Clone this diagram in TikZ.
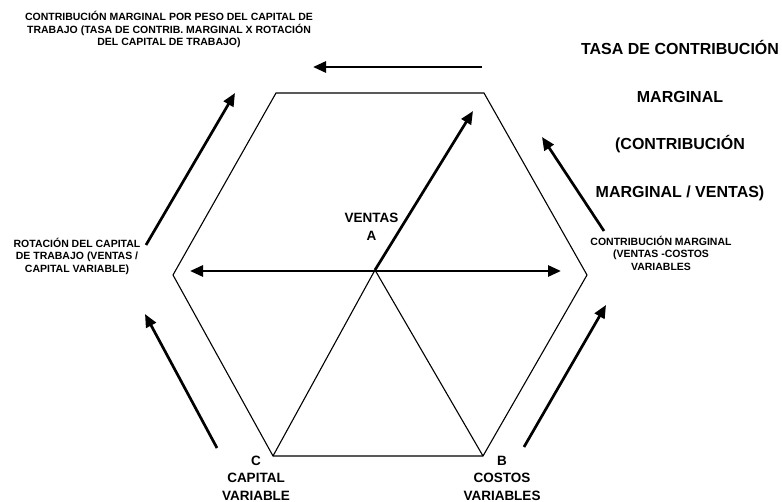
\documentclass[tikz,border=0pt]{standalone}
\usepackage{fontspec}
\setmainfont{Liberation Sans}
\usetikzlibrary{arrows.meta}
\tikzset{
  hexline/.style={line width=1.1pt, line join=miter},
  bigarrow/.style={line width=2.7pt, -{Triangle[length=13pt,width=11pt]}},
  dblarrow/.style={line width=2.7pt, {Triangle[length=13pt,width=11pt]}-{Triangle[length=13pt,width=11pt]}},
  smalltxt/.style={align=center, inner sep=0pt, font=\bfseries\fontsize{10.5}{12.5}\selectfont},
  bigtxt/.style={anchor=base, inner sep=0pt, font=\bfseries\fontsize{16}{19}\selectfont},
  vtxlabel/.style={align=center, inner sep=0pt, font=\bfseries\fontsize{13.5}{17.5}\selectfont},
}
\begin{document}
\begin{tikzpicture}[x=1pt,y=-1pt]
\useasboundingbox (0,0) rectangle (782,502);
% hexagon vertices
\coordinate (TL) at (276,93);
\coordinate (TR) at (484,93);
\coordinate (R) at (587,275);
\coordinate (BR) at (483,456);
\coordinate (BL) at (273,456);
\coordinate (L) at (173,275);
\coordinate (O) at (375,270);
\draw[hexline] (TL) -- (TR) -- (R) -- (BR) -- (BL) -- (L) -- cycle;
\draw[line width=1.1pt] (BL) -- (O) -- (BR);
% inner arrows
\coordinate (Otip) at (473,111);
\draw[bigarrow] (O) -- (Otip);
\coordinate (HL) at (190,271);
\coordinate (HR) at (561,271);
\draw[dblarrow] (HL) -- (HR);
% outer arrows
\coordinate (a1s) at (482,67); \coordinate (a1e) at (313,67);
\draw[bigarrow] (a1s) -- (a1e);
\coordinate (a2s) at (146,245); \coordinate (a2e) at (235,93);
\draw[bigarrow] (a2s) -- (a2e);
\coordinate (a3s) at (217,448); \coordinate (a3e) at (145,314);
\draw[bigarrow] (a3s) -- (a3e);
\coordinate (a4s) at (524,447); \coordinate (a4e) at (606,305);
\draw[bigarrow] (a4s) -- (a4e);
\coordinate (a5s) at (604,231); \coordinate (a5e) at (542,137);
\draw[bigarrow] (a5s) -- (a5e);
% texts
\node[smalltxt] (ttop) at (169,29.5) {CONTRIBUCIÓN MARGINAL POR PESO DEL CAPITAL DE\\TRABAJO (TASA DE CONTRIB. MARGINAL X ROTACIÓN\\DEL CAPITAL DE TRABAJO)};
\node[smalltxt] (tleft) at (77,256) {ROTACIÓN DEL CAPITAL\\DE TRABAJO (VENTAS /\\CAPITAL VARIABLE)};
\node[smalltxt] (tright) at (661,253) {CONTRIBUCIÓN MARGINAL\\(VENTAS -COSTOS\\VARIABLES};
\node[bigtxt] (r1) at (680,54.7) {TASA DE CONTRIBUCIÓN};
\node[bigtxt] (r2) at (680,102.7) {MARGINAL};
\node[bigtxt] (r3) at (680,149.7) {(CONTRIBUCIÓN};
\node[bigtxt] (r4) at (680,197.7) {MARGINAL / VENTAS)};
\node[vtxlabel] (vA) at (371.5,227) {VENTAS\\A};
\node[vtxlabel] (vC) at (256,478) {C\\CAPITAL\\VARIABLE};
\node[vtxlabel] (vB) at (502,478) {B\\COSTOS\\VARIABLES};
\end{tikzpicture}
\end{document}
